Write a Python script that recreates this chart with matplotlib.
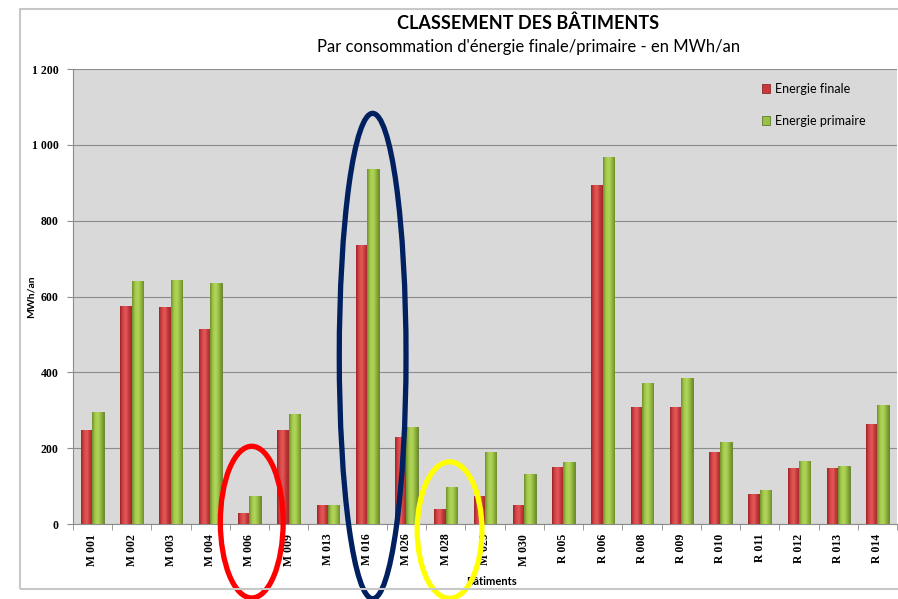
import matplotlib
matplotlib.use('Agg')
import numpy as np
import matplotlib.pyplot as plt
from matplotlib.patches import Ellipse, Rectangle
from matplotlib.colors import LinearSegmentedColormap

plt.rcParams['font.family'] = ['Open Sans', 'DejaVu Sans']

# Données
batiments = ['M 001', 'M 002', 'M 003', 'M 004', 'M 006', 'M 009', 'M 013', 'M 016',
             'M 026', 'M 028', 'M 029', 'M 030', 'R 005', 'R 006', 'R 008', 'R 009',
             'R 010', 'R 011', 'R 012', 'R 013', 'R 014']
energie_finale = [248, 575, 572, 514, 29, 248, 51, 736, 229, 39, 74, 50, 150, 894,
                  309, 308, 189, 79, 147, 147, 263]
energie_primaire = [296, 641, 643, 636, 75, 289, 49, 937, 257, 98, 190, 132, 163, 967,
                    373, 386, 217, 91, 167, 153, 313]
y_ticks = [0, 200, 400, 600, 800, 1000, 1200]
y_ticklabels = ['0', '200', '400', '600', '800', '1 000', '1 200']

# Ellipses d'annotation : (index bâtiment, centre y, largeur, hauteur, couleur)
surlignages = [(4.06, 5, 1.6, 400, '#ff0000'),
               (7.14, 443, 1.7, 1280, '#002060'),
               (9.1, -16, 1.65, 360, '#ffff00')]

fig = plt.figure(figsize=(8.98, 5.99), dpi=100)
ax = fig.add_axes([0.081, 0.1252, 0.918, 0.7596])

# cadre du graphique
fig.add_artist(Rectangle((20 / 898, 1 - 589 / 599), 0.99, 580 / 599,
                         transform=fig.transFigure, fill=False,
                         edgecolor='#c8c8c8', linewidth=1.5))

x = np.arange(len(batiments))
w = 0.29
ax.set_facecolor('#d9d9d9')
barres_f = ax.bar(x - w / 2, energie_finale, w, color='#c9393b', edgecolor='#8e2a2a',
                  linewidth=0.6, label='Energie finale', zorder=3)
barres_p = ax.bar(x + w / 2, energie_primaire, w, color='#98c044', edgecolor='#5f7d2a',
                  linewidth=0.6, label='Energie primaire', zorder=3)

# effet cylindre (dégradé horizontal) sur chaque barre
cm_rouge = LinearSegmentedColormap.from_list('r', ['#9a2628', '#d94446', '#e25a5a', '#c23638', '#9e2a2b'])
cm_vert = LinearSegmentedColormap.from_list('g', ['#6f8f2c', '#a4c94c', '#b2d65a', '#94b940', '#6f8f2c'])
grad = np.linspace(0, 1, 64).reshape(1, -1)
for barres, cm in [(barres_f, cm_rouge), (barres_p, cm_vert)]:
    for p in barres:
        x0, h, bw = p.get_x(), p.get_height(), p.get_width()
        im = ax.imshow(grad, extent=[x0, x0 + bw, 0, h], aspect='auto', cmap=cm,
                       zorder=3.2, interpolation='bilinear')
        im.set_clip_path(p)

ax.set_xlim(-0.5, len(batiments) - 0.5)
ax.set_ylim(0, 1200)
ax.set_yticks(y_ticks)
ax.set_yticklabels(y_ticklabels, fontsize=8.5, fontweight='bold',
                   family='Liberation Serif')
ax.yaxis.grid(True, color='#8c8c8c', linewidth=0.8, zorder=0)
ax.set_axisbelow(True)

ax.set_xticks(x)
ax.set_xticklabels(batiments, rotation=90, fontsize=8.5, fontweight='bold',
                   family='Liberation Serif')
ax.set_xticks(np.arange(len(batiments) + 1) - 0.5, minor=True)
ax.tick_params(axis='x', which='major', length=0, pad=7)
ax.tick_params(axis='x', which='minor', length=4, color='#8c8c8c')
ax.tick_params(axis='y', length=4, color='#8c8c8c', pad=6)

for s in ['top', 'right']:
    ax.spines[s].set_visible(False)
ax.spines['left'].set_color('#8c8c8c')
ax.spines['bottom'].set_color('#8c8c8c')

ax.set_ylabel('MWh/an', fontsize=7.5, fontweight='bold', family='Lato')
ax.yaxis.set_label_coords(-0.045, 0.5)
ax.set_xlabel('Bâtiments', fontsize=8, fontweight='bold', family='Lato')
ax.xaxis.set_label_coords(0.508, -0.115)

fig.text(0.588, 0.962, 'CLASSEMENT DES BÂTIMENTS', ha='center', va='center',
         fontsize=13, fontweight='bold', family='Lato')
fig.text(0.589, 0.922, "Par consommation d'énergie finale/primaire - en MWh/an",
         ha='center', va='center', fontsize=12, family='Lato')

ax.legend(loc='upper left', bbox_to_anchor=(0.822, 0.995), frameon=False,
          prop={'family': 'Lato', 'size': 9}, handlelength=0.7, handleheight=0.7,
          labelspacing=1.6, handletextpad=0.4)

for cx, cy, ew, eh, col in surlignages:
    ax.add_patch(Ellipse((cx, cy), ew, eh, fill=False, edgecolor=col,
                         linewidth=3.8, clip_on=False, zorder=10))

fig.savefig('out.png', dpi=100)
